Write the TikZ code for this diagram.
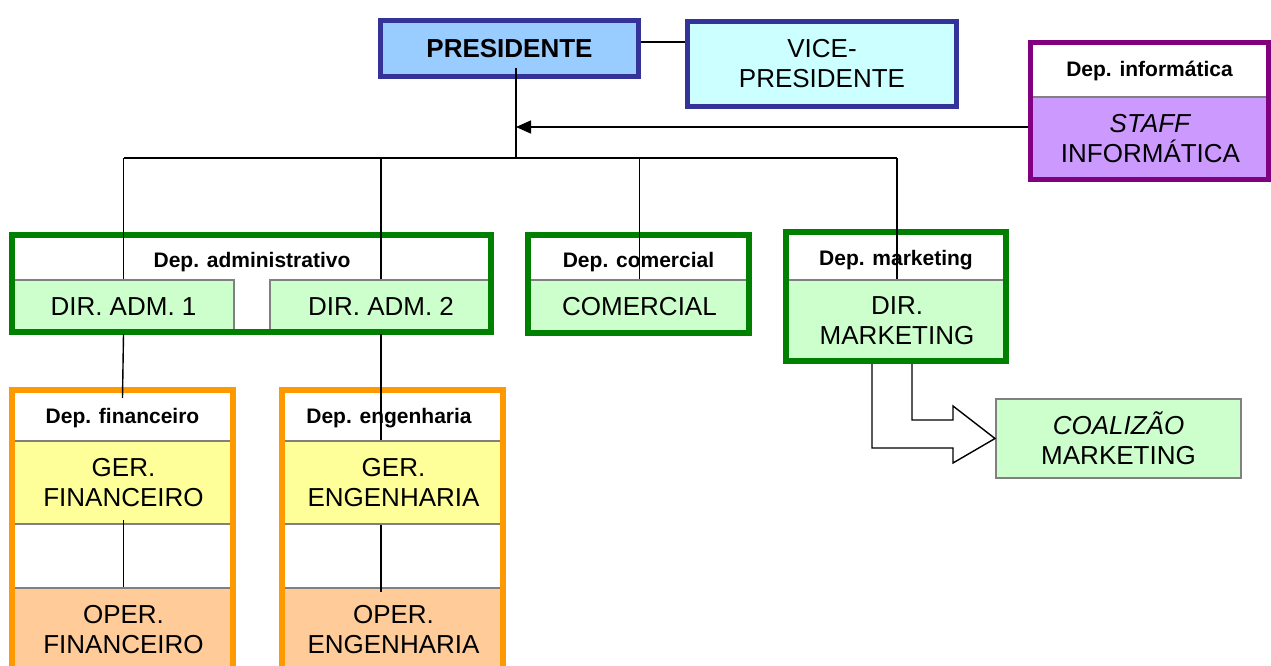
\documentclass[tikz,border=0pt]{standalone}
\usepackage{fontspec}
\setmainfont{Liberation Sans}
\usetikzlibrary{arrows.meta,calc}
\definecolor{navy}{HTML}{333399}
\definecolor{lblue}{HTML}{99CCFF}
\definecolor{lcyan}{HTML}{CCFFFF}
\definecolor{purp}{HTML}{800080}
\definecolor{lav}{HTML}{CC99FF}
\definecolor{dgreen}{HTML}{008000}
\definecolor{lgreen}{HTML}{CCFFCC}
\definecolor{orng}{HTML}{FF9900}
\definecolor{lyel}{HTML}{FFFF99}
\definecolor{peach}{HTML}{FFCC99}
\definecolor{sepgray}{HTML}{808080}
\begin{document}
\begin{tikzpicture}[x=1pt,y=-1pt,
  main/.style={font=\fontsize{26}{30}\selectfont, align=center, text=black},
  hdr/.style={font=\fontsize{21}{25}\selectfont\bfseries, inner sep=0pt, text depth=0pt},
  cell/.style={draw=sepgray, line width=2pt, inner sep=0pt, anchor=north west, main},
  frame/.style={line width=6pt, inner sep=0pt},
  conn/.style={line width=1.4pt, black}]
\useasboundingbox (0,0) rectangle (1271,666);
\clip (0,0) rectangle (1271,666);

% white backgrounds
\fill[white] (12,235) rectangle (491,332);
\fill[white] (528,235) rectangle (749,333);
\fill[white] (786,232) rectangle (1006,361);
\fill[white] (12,390) rectangle (233,673);
\fill[white] (282,390) rectangle (503,673);
\fill[white] (1030.5,42.5) rectangle (1268.5,179.5);

% cells
\node[cell, fill=lgreen, minimum width=221pt, minimum height=53pt] (adm1) at (12,279) {DIR. ADM. 1};
\node[cell, fill=lgreen, minimum width=222pt, minimum height=53pt] (adm2) at (269,279) {DIR. ADM. 2};
\node[cell, fill=lgreen, minimum width=221pt, minimum height=54pt] (comc) at (528,279) {COMERCIAL};
\node[cell, fill=lgreen, minimum width=220pt, minimum height=82pt] (mktc) at (786,279) {DIR.\\MARKETING};
\node[cell, fill=lyel, minimum width=221pt, minimum height=83pt] (gerfin) at (12,440) {GER.\\FINANCEIRO};
\node[cell, fill=peach, minimum width=221pt, minimum height=83pt] (operfin) at (12,587) {OPER.\\FINANCEIRO};
\node[cell, fill=lyel, minimum width=221pt, minimum height=83pt] (gereng) at (282,440) {GER.\\ENGENHARIA};
\node[cell, fill=peach, minimum width=221pt, minimum height=83pt] (opereng) at (282,587) {OPER.\\ENGENHARIA};
\node[cell, fill=lav, minimum width=238pt, minimum height=83.5pt] (staff) at (1030.5,96) {\textit{STAFF}\\INFORMÁTICA};
\node[cell, fill=lgreen, minimum width=245pt, minimum height=79pt] (coal) at (995,398) {\textit{COALIZÃO}\\MARKETING};

% frames
\node[frame, draw=dgreen, minimum width=479pt, minimum height=97pt] (admf) at (251.5,283.5) {};
\node[frame, draw=dgreen, minimum width=221pt, minimum height=98pt] (comf) at (638.5,284) {};
\node[frame, draw=dgreen, minimum width=220pt, minimum height=129pt] (mktf) at (896,296.5) {};
\node[frame, draw=orng, minimum width=221pt, minimum height=283pt] (finf) at (122.5,531.5) {};
\node[frame, draw=orng, minimum width=221pt, minimum height=283pt] (engf) at (392.5,531.5) {};
\node[frame, draw=purp, line width=5pt, minimum width=238pt, minimum height=137pt] (inff) at (1149.5,111) {};
\node[draw=navy, line width=5pt, fill=lblue, inner sep=0pt, minimum width=258pt, minimum height=56pt, main, font=\fontsize{26}{30}\selectfont\bfseries] (pres) at (509.5,48.5) {PRESIDENTE};
\node[draw=navy, line width=5pt, fill=lcyan, inner sep=0pt, minimum width=269pt, minimum height=85pt, main] (vice) at (822,64) {VICE-\\PRESIDENTE};

% headers
\node[hdr] (admh) at (252,260) {Dep. administrativo};
\node[hdr] (comh) at (638.5,260) {Dep. comercial};
\node[hdr] (mkth) at (896,258) {Dep. marketing};
\node[hdr] (finh) at (122.5,416) {Dep. financeiro};
\node[hdr] (engh) at (389,416) {Dep. engenharia};
\node[hdr] (infh) at (1149.5,69) {Dep. informática};

% connectors
\coordinate (pd) at (516,68);
\coordinate (bj) at (516,158);
\coordinate (arr) at (516,127);
\coordinate (finend) at (122.5,398);
\draw[conn] ([yshift=6.5pt]pres.east) -- ([yshift=6.5pt]pres.east -| vice.west);
\draw[conn] (pd) -- (bj);
\draw[conn] (adm1.north |- bj) -- (mktc.north |- bj);
\draw[conn] (adm1.north |- bj) -- (adm1.north);
\draw[conn] (adm2.north |- bj) -- (adm2.north);
\draw[conn] (comc.north |- bj) -- (comc.north);
\draw[conn] (mktc.north |- bj) -- (mktc.north);
\draw[conn, -{Triangle[length=15pt,width=13pt]}] (arr -| inff.west) -- (arr);
\draw[conn] (adm1.south) -- (finend);
\draw[conn] (adm2.south) -- (adm2.south |- gereng.north);
\draw[conn] ([yshift=5pt]gerfin.south) -- (operfin.north);
\draw[conn] (adm2.south |- gereng.south) -- ([yshift=-5pt]adm2.south |- opereng.north);

% block arrow to coalizao
\draw[line width=1.4pt, fill=white] (872,364) -- (872,448) -- (953,448) -- (953,463) -- (coal.west) -- (953,406) -- (953,420) -- (912,420) -- (912,364);
\end{tikzpicture}
\end{document}
